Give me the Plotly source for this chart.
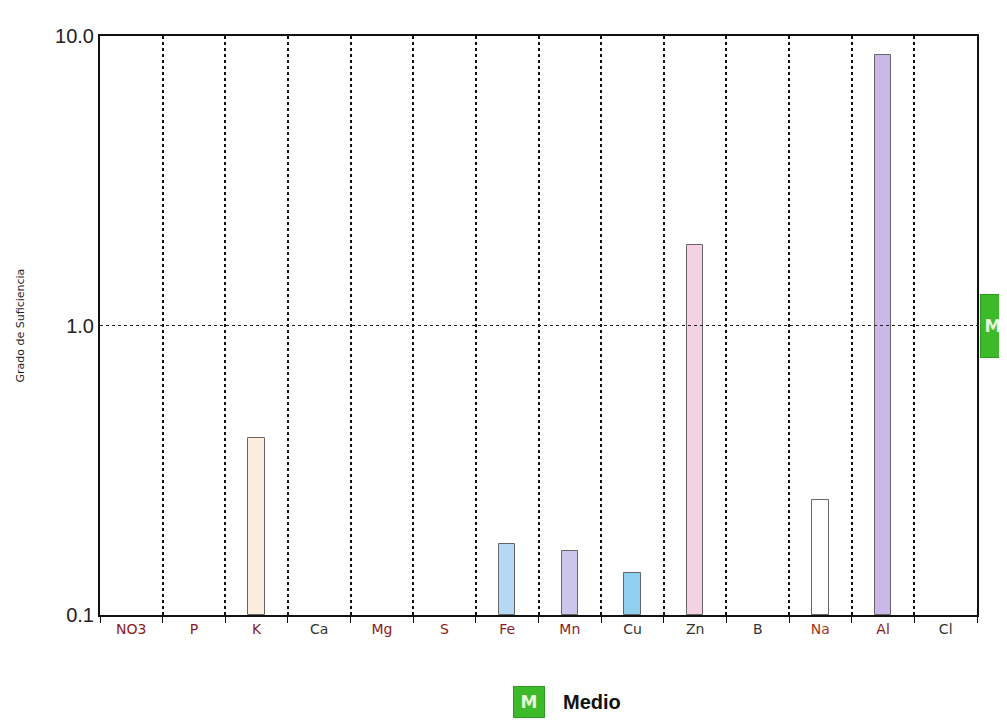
import plotly.graph_objects as go

categories = ["NO3", "P", "K", "Ca", "Mg", "S", "Fe", "Mn", "Cu", "Zn", "B", "Na", "Al", "Cl"]
values = [None, None, 0.41, None, None, None, 0.176, 0.166, 0.14, 1.9, None, 0.25, 8.6, None]
bar_colors = ["#ffffff", "#ffffff", "#fbeede", "#ffffff", "#ffffff", "#ffffff", "#b6d8f2",
              "#cdc6ec", "#8fd0f0", "#f4d2e4", "#ffffff", "#ffffff", "#c9b8e8", "#ffffff"]
label_colors = ["#8b1a1a", "#8b1a1a", "#8b1a1a", "#333333", "#8b1a1a", "#8b1a1a", "#8b1a1a",
                "#8b1a1a", "#333333", "#333333", "#333333", "#a8321c", "#8b1a1a", "#333333"]
ytick_vals = [0.1, 1, 10]
ytick_text = ["0.1", "1.0", "10.0"]
ref_level = 1.0
legend_code = "M"
legend_label = "Medio"
y_title = "Grado de Suficiencia"

base_level = ytick_vals[0]
fig = go.Figure()
fig.add_trace(go.Bar(
    x=categories,
    y=[None if v is None else v - base_level for v in values],
    base=base_level, width=0.26,
    marker=dict(color=bar_colors, line=dict(color="#666666", width=1)),
    showlegend=False,
))

fig.add_hline(y=ref_level, line=dict(color="#222222", width=1, dash="dot"))

ticktext_col = [f"<span style='color:{c}'>{t}</span>" for t, c in zip(categories, label_colors)]

fig.update_layout(
    width=1007, height=727,
    margin=dict(l=92, r=38, t=28, b=120),
    paper_bgcolor="white", plot_bgcolor="white",
    font=dict(family="DejaVu Sans", color="#222222"),
    bargap=0,
    xaxis=dict(
        type="category", tickmode="array", tickvals=categories, ticktext=ticktext_col,
        tickson="boundaries", ticks="outside", ticklen=6, tickcolor="#111111",
        showgrid=True, gridcolor="#111111", griddash="dot", gridwidth=1.5,
        showline=True, linecolor="#111111", linewidth=2, mirror=True,
        tickfont=dict(size=14, family="DejaVu Sans"),
        range=[-0.5, 13.5], automargin=False,
    ),
    yaxis=dict(
        type="log", range=[-1, 1], tickvals=ytick_vals, ticktext=ytick_text,
        showgrid=False, showline=True, linecolor="#111111", linewidth=2, mirror=True,
        ticks="", tickfont=dict(size=20, family="Liberation Sans Narrow, Liberation Sans"),
        automargin=False,
    ),
)

fig.add_annotation(
    xref="paper", yref="paper", x=0, y=0.5, xanchor="center", yanchor="middle",
    xshift=-80, text=y_title, textangle=-90, showarrow=False,
    font=dict(size=11, color="#222222"),
)
fig.add_annotation(
    xref="paper", yref="y", x=1, y=0, xanchor="left", xshift=3,
    text=f"<b>{legend_code}</b>", showarrow=False,
    font=dict(size=17, color="#eaf7d8"), bgcolor="#3dba2a", bordercolor="#2e9a20",
    width=22, height=60, borderpad=1,
)
fig.add_annotation(
    xref="paper", yref="paper", x=0.5, y=-0.15, xanchor="center", yanchor="middle",
    text=f"<b>{legend_code}</b>", showarrow=False,
    font=dict(size=17, color="#eaf7d8"), bgcolor="#3dba2a", bordercolor="#2e9a20",
    width=28, height=28, xshift=-10,
)
fig.add_annotation(
    xref="paper", yref="paper", x=0.5, y=-0.15, xanchor="left", yanchor="middle",
    text=f"<b>{legend_label}</b>", showarrow=False, xshift=22,
    font=dict(size=20, color="#111111", family="Liberation Sans"),
)

fig.write_html("out.html")
